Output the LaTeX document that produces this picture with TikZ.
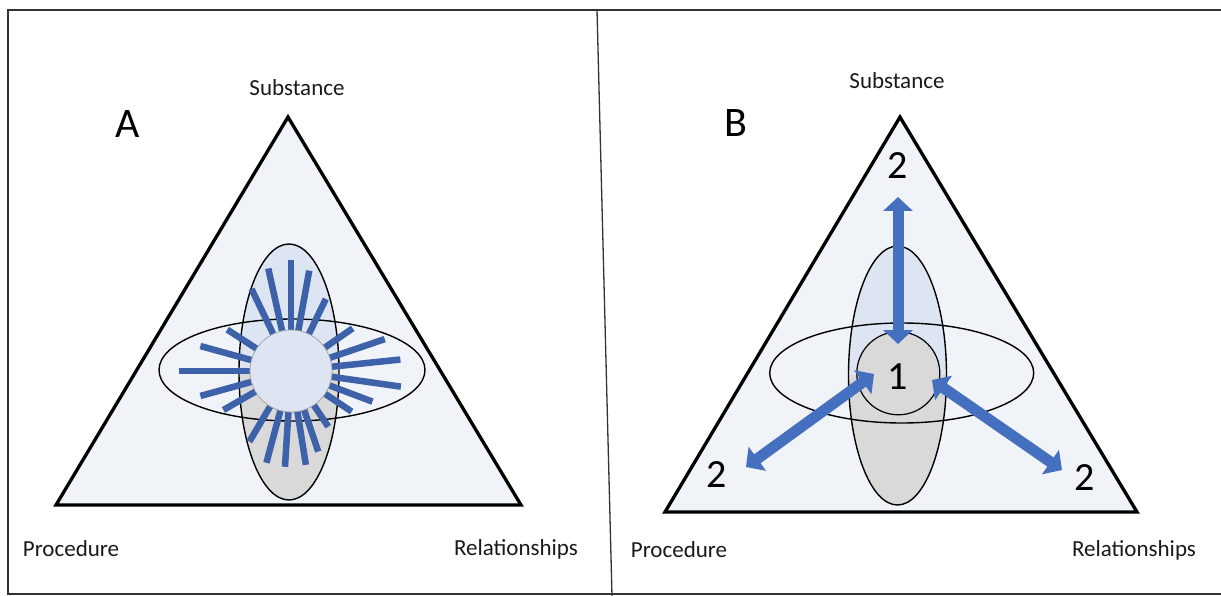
\documentclass[tikz,border=0pt]{standalone}
\usepackage{fontspec}
\setmainfont{Carlito}
\usetikzlibrary{arrows.meta,calc,shapes.geometric}
\definecolor{trifill}{HTML}{F0F3F7}
\definecolor{lightblue}{HTML}{DCE5F1}
\definecolor{lightgrey}{HTML}{D9D9D9}
\definecolor{raycol}{HTML}{3D62AA}
\definecolor{arrowcol}{HTML}{4570C0}
\definecolor{framecol}{HTML}{333333}
\definecolor{textcol}{HTML}{1A1A1A}

\begin{document}
\begin{tikzpicture}[x=1pt,y=-1pt,
  corner/.style={font=\fontsize{23}{27}\selectfont, text=textcol, inner sep=0pt},
  panelletter/.style={font=\fontsize{42}{46}\selectfont, text=black, inner sep=0pt},
  digit/.style={font=\fontsize{40}{44}\selectfont, text=black, inner sep=0pt},
  tri/.style={draw=black, line width=3.3pt, fill=trifill, line join=miter},
  lobe/.style={draw=black, line width=1.4pt},
  ray/.style={draw=raycol, line width=6.5pt},
  bigarrow/.style={draw=arrowcol, line width=11pt,
    {Triangle[width=29pt,length=14pt]}-{Triangle[width=29pt,length=14pt]}}
]
\useasboundingbox (0,0) rectangle (1221,596);

% outer frame and divider
\draw[framecol, line width=2.8pt] (8,10) rectangle (1240,594);
\draw[framecol, line width=1.3pt] (597,10) -- (612,596);

% ---------------- Panel A ----------------
\draw[tri] (288,117) -- (56,505) -- (521,505) -- cycle;

% vertical lobe: blue upper half, grey lower half
\begin{scope}
  \clip (230,230) rectangle (350,371);
  \fill[lightblue] (289,372) ellipse [x radius=50, y radius=128];
\end{scope}
\begin{scope}
  \clip (230,371) rectangle (350,510);
  \fill[lightgrey] (289,372) ellipse [x radius=50, y radius=128];
\end{scope}
\node[ellipse, lobe, minimum width=100pt, minimum height=256pt, inner sep=0pt] (vA) at (289,372) {};
\node[ellipse, lobe, minimum width=266pt, minimum height=102pt, inner sep=0pt] (hA) at (292,370) {};

% rays from the core
\coordinate (cA) at (291,371);
\foreach \a/\l in {90/111, 102.5/105, 115.7/91, 79.7/102, 64.2/80,
                   147/76, 164.6/94, 180/112, 195.4/94, 210/78,
                   34.7/75, 18.8/99, 6/110, -8.1/111, -20.6/87, -33.8/73,
                   239.5/82, 255/95, 266.4/96, 279/95, 288.7/85, 303.8/67}
  \draw[ray] ($(cA)+(-\a:36)$) -- ($(cA)+(-\a:\l)$);

\node[circle, fill=lightblue, draw=gray!70, line width=0.8pt, minimum size=82pt, inner sep=0pt] (coreA) at (cA) {};

\node[corner] (subA) at (297,88) {Substance};
\node[corner] (procA) at (71,549) {Procedure};
\node[corner] (relA) at (516,549) {Relationships};
\node[panelletter] (labA) at (128,124) {A};

% ---------------- Panel B ----------------
\draw[tri] (900,117) -- (665,512) -- (1137,512) -- cycle;

\begin{scope}
  \clip (840,240) rectangle (960,375);
  \fill[lightblue] (897.5,375.5) ellipse [x radius=49, y radius=129.5];
\end{scope}
\begin{scope}
  \clip (840,375) rectangle (960,510);
  \fill[lightgrey] (897.5,375.5) ellipse [x radius=49, y radius=129.5];
\end{scope}
\node[circle, fill=lightgrey, minimum size=83pt, inner sep=0pt] (coreB) at (898.3,373.3) {};
\node[ellipse, lobe, minimum width=98pt, minimum height=259pt, inner sep=0pt] (vB) at (897.5,375.5) {};
\node[ellipse, lobe, minimum width=264pt, minimum height=100pt, inner sep=0pt] (hB) at (901.7,373) {};
\draw[black, line width=1.2pt] (coreB.center) circle [radius=41.5pt];
\node[digit] (one) at (898,377) {1};

% double arrows between the core and the three corners
\coordinate (inTop) at (898,344);
\coordinate (outTop) at (898,197);
\coordinate (inLeft) at (874,374);
\coordinate (outLeft) at (746,467);
\coordinate (inRight) at (932,380);
\coordinate (outRight) at (1062,470);
\draw[bigarrow] (inTop) -- (outTop);
\draw[bigarrow] (inLeft) -- (outLeft);
\draw[bigarrow] (inRight) -- (outRight);

\node[digit] (twoTop) at (898,166) {2};
\node[digit] (twoLeft) at (717,475) {2};
\node[digit] (twoRight) at (1085,478) {2};

\node[corner] (subB) at (897,81) {Substance};
\node[corner] (procB) at (679,550) {Procedure};
\node[corner] (relB) at (1134,550) {Relationships};
\node[panelletter] (labB) at (736,123) {B};
\end{tikzpicture}
\end{document}
